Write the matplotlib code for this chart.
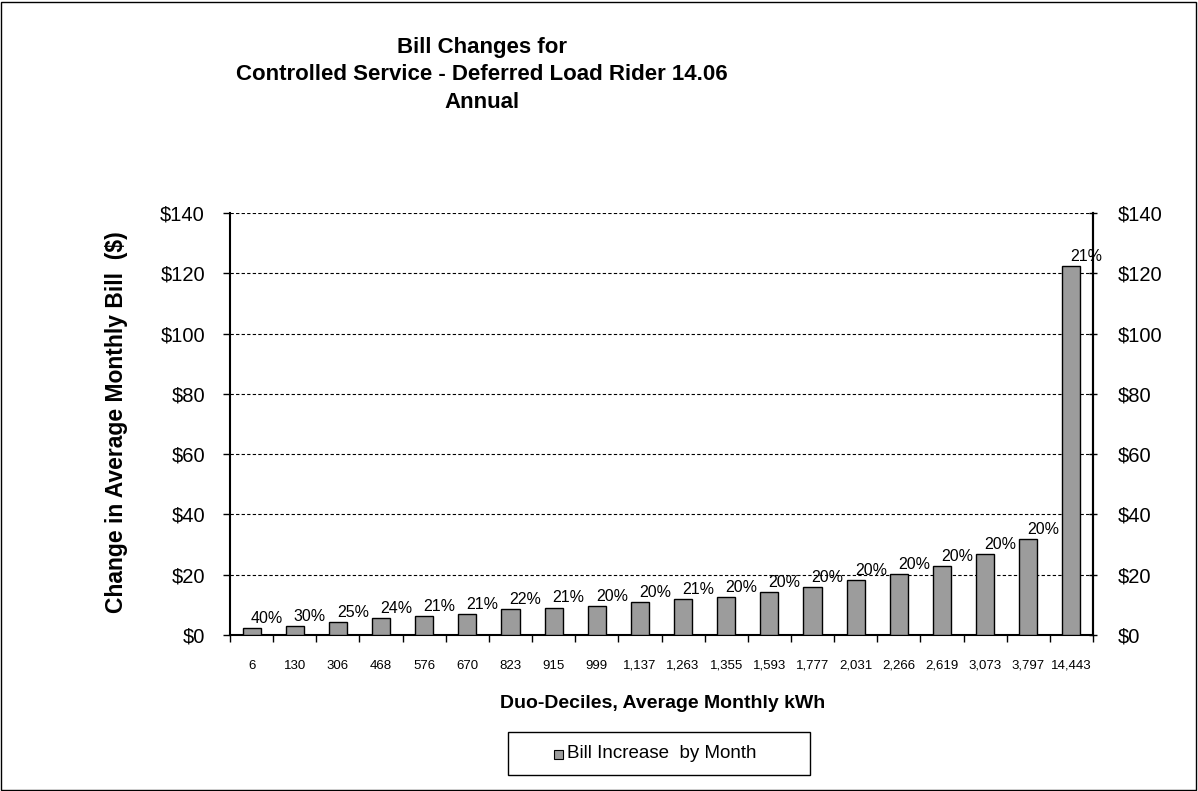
import numpy as np
import matplotlib.pyplot as plt
from matplotlib.patches import Rectangle
from matplotlib.ticker import FixedLocator

plt.rcParams['font.family'] = ['Liberation Sans', 'DejaVu Sans']

# --- data ---
kwh_labels = ['6', '130', '306', '468', '576', '670', '823', '915', '999', '1,137',
              '1,263', '1,355', '1,593', '1,777', '2,031', '2,266', '2,619', '3,073',
              '3,797', '14,443']
bill_increase = [2.2, 3.0, 4.3, 5.5, 6.4, 6.9, 8.5, 9.1, 9.5, 10.8,
                 12.0, 12.5, 14.2, 15.9, 18.1, 20.3, 22.8, 26.8, 31.9, 122.4]
pct_labels = ['40%', '30%', '25%', '24%', '21%', '21%', '22%', '21%', '20%', '20%',
              '21%', '20%', '20%', '20%', '20%', '20%', '20%', '20%', '20%', '21%']
y_ticks = [0, 20, 40, 60, 80, 100, 120, 140]

W, H = 1198, 791
fig = plt.figure(figsize=(W / 100, H / 100), dpi=100)
ax = fig.add_axes([230 / W, 1 - 635 / H, (1093 - 230) / W, (635 - 213) / H])

x = np.arange(len(kwh_labels))
ax.bar(x, bill_increase, width=0.42, color='#9c9c9c', edgecolor='black',
       linewidth=1.0, zorder=3)

# percent labels sit just above and to the right of each bar
for xi, val, txt in zip(x, bill_increase, pct_labels):
    ax.text(xi + 0.35, val + 1.7, txt, ha='center', va='baseline',
            fontsize=11.5, zorder=4)

ax.set_xlim(-0.5, len(x) - 0.5)
ax.set_ylim(0, 140)
ax.set_yticks(y_ticks)
ax.set_yticklabels([f'${v}' for v in y_ticks], fontsize=14.5)
ax.yaxis.grid(True, linestyle=(0, (3, 2)), color='black', linewidth=0.8, zorder=0)

ax.set_xticks(x)
ax.set_xticklabels(kwh_labels, fontsize=9.5)
ax.xaxis.set_minor_locator(FixedLocator(np.arange(-0.5, len(x), 1.0)))
ax.tick_params(axis='x', which='major', length=0, pad=18)
ax.tick_params(axis='x', which='minor', length=5, width=1, direction='out')
ax.tick_params(axis='y', length=5, width=1, direction='out', pad=13)

for side in ['left', 'bottom', 'right']:
    ax.spines[side].set_linewidth(1.5)
ax.spines['top'].set_visible(False)

ax2 = ax.twinx()
ax2.set_ylim(0, 140)
ax2.set_yticks(y_ticks)
ax2.set_yticklabels([f'${v}' for v in y_ticks], fontsize=14.5)
ax2.tick_params(axis='y', length=6, width=1, direction='inout', pad=15)
ax2.spines['right'].set_linewidth(1.5)
for side in ['top', 'left', 'bottom']:
    ax2.spines[side].set_visible(False)

fig.text(117 / W, 1 - 422 / H, 'Change in Average Monthly Bill  ($)', rotation=90,
         ha='center', va='center', fontsize=16.5, fontweight='bold')
fig.text(663 / W, 1 - 703 / H, 'Duo-Deciles, Average Monthly kWh',
         ha='center', va='center', fontsize=14, fontweight='bold')

fig.text(482 / W, 1 - 75 / H,
         'Bill Changes for\nControlled Service - Deferred Load Rider 14.06\nAnnual',
         ha='center', va='center', fontsize=16, fontweight='bold', linespacing=1.4)

# legend box drawn by hand
fig.patches.append(Rectangle((508 / W, 1 - 775 / H), 302 / W, 43 / H,
                             transform=fig.transFigure, fill=False,
                             edgecolor='black', linewidth=1.0))
fig.patches.append(Rectangle((554 / W, 1 - 759 / H), 9 / W, 9 / H,
                             transform=fig.transFigure, facecolor='#9c9c9c',
                             edgecolor='black', linewidth=0.8))
fig.text(567 / W, 1 - 754 / H, 'Bill Increase  by Month', ha='left', va='center',
         fontsize=13.5)

fig.patches.append(Rectangle((0.001, 0.001), 0.997, 0.997, transform=fig.transFigure,
                             fill=False, edgecolor='black', linewidth=1.0))

fig.savefig('out.png', dpi=100)
